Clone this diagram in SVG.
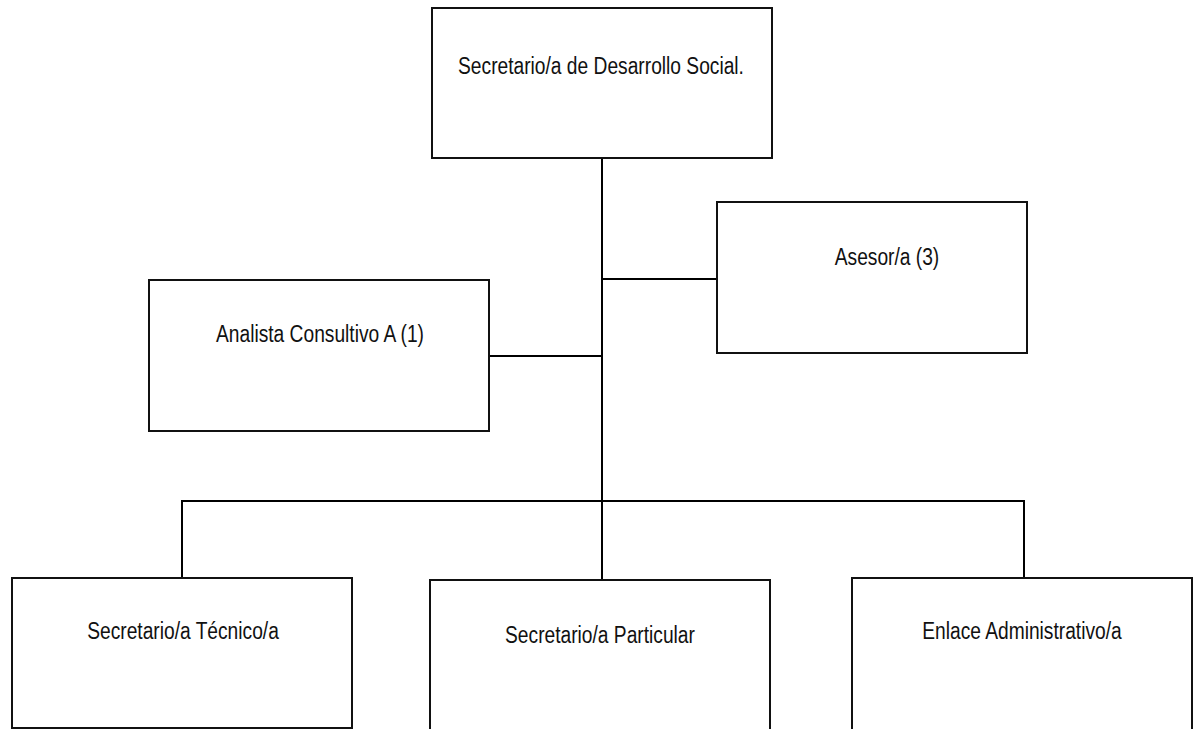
<svg xmlns="http://www.w3.org/2000/svg" width="1193" height="729" viewBox="0 0 1193 729">
<style>
.box{fill:#fff;stroke:#111;stroke-width:2}
.lbl{font-family:"Liberation Sans",Arial,sans-serif;font-size:23px;fill:#111;text-anchor:middle}
.con{stroke:#000;stroke-width:2;fill:none}
</style>
<rect width="1193" height="729" fill="#fff"/>
<g id="connectors">
<line class="con" x1="602" y1="158" x2="602" y2="501"/>
<line class="con" x1="602" y1="279" x2="717" y2="279"/>
<line class="con" x1="489" y1="356" x2="602" y2="356"/>
<line class="con" x1="181" y1="501" x2="1025" y2="501"/>
<line class="con" x1="182" y1="501" x2="182" y2="578"/>
<line class="con" x1="602" y1="501" x2="602" y2="580"/>
<line class="con" x1="1024" y1="501" x2="1024" y2="578"/>
</g>
<g id="secretario-desarrollo">
<rect class="box" x="432" y="8" width="340" height="150"/>
<text class="lbl" transform="translate(601,74) scale(0.835,1)">Secretario/a de Desarrollo Social.</text>
</g>
<g id="asesor">
<rect class="box" x="717" y="202" width="310" height="151"/>
<text class="lbl" transform="translate(887,265) scale(0.835,1)">Asesor/a (3)</text>
</g>
<g id="analista">
<rect class="box" x="149" y="280" width="340" height="151"/>
<text class="lbl" transform="translate(320,342) scale(0.835,1)">Analista Consultivo A (1)</text>
</g>
<g id="secretario-tecnico">
<rect class="box" x="12" y="578" width="340" height="150"/>
<text class="lbl" transform="translate(183,639) scale(0.835,1)">Secretario/a Técnico/a</text>
</g>
<g id="secretario-particular">
<rect class="box" x="430" y="580" width="340" height="160"/>
<text class="lbl" transform="translate(600,643) scale(0.835,1)">Secretario/a Particular</text>
</g>
<g id="enlace-administrativo">
<rect class="box" x="852" y="578" width="340" height="160"/>
<text class="lbl" transform="translate(1022,639) scale(0.835,1)">Enlace Administrativo/a</text>
</g>
</svg>
